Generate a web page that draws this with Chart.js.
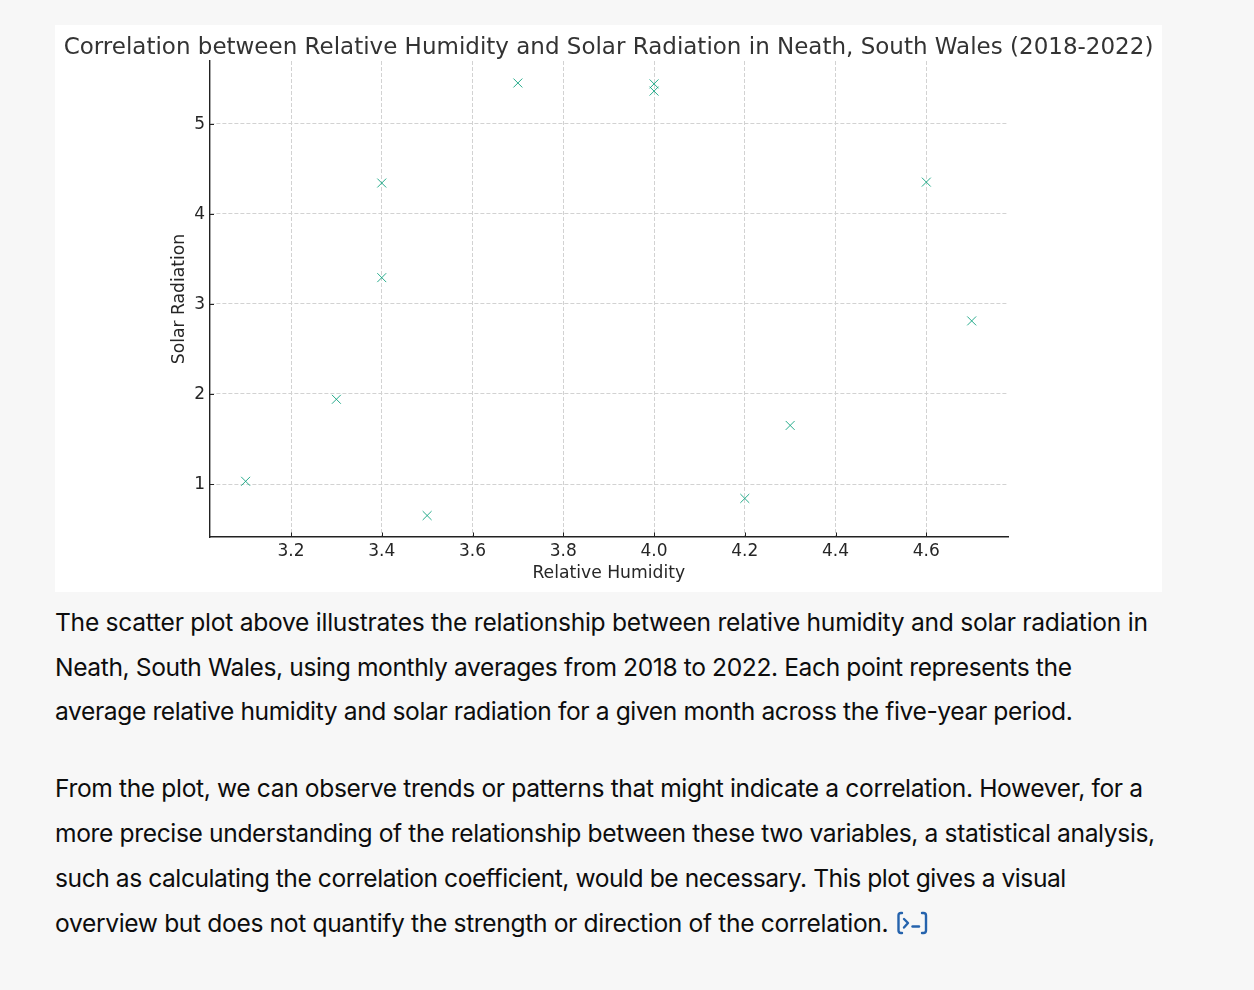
<!DOCTYPE html>
<html><head><meta charset="utf-8">
<script src="https://cdn.jsdelivr.net/npm/chart.js@4"></script>
<style>
html,body{margin:0;padding:0;background:#f7f7f7;width:1254px;height:990px;overflow:hidden}
#box{position:absolute;left:55px;top:25px;width:1107px;height:567px;background:#fff}
canvas{display:block}
.l{position:absolute;left:55px;font:400 24.6px/30px Inter,sans-serif;color:#0d0d0d;white-space:nowrap}
svg{position:absolute}
</style></head><body>
<div id="box"><canvas id="c" width="1107" height="567"></canvas></div>
<div class="l" style="top:607px;letter-spacing:-0.27px">The scatter plot above illustrates the relationship between relative humidity and solar radiation in</div>
<div class="l" style="top:652px;letter-spacing:-0.395px">Neath, South Wales, using monthly averages from 2018 to 2022. Each point represents the</div>
<div class="l" style="top:696px;letter-spacing:-0.393px">average relative humidity and solar radiation for a given month across the five-year period.</div>
<div class="l" style="top:773px;letter-spacing:-0.37px">From the plot, we can observe trends or patterns that might indicate a correlation. However, for a</div>
<div class="l" style="top:818px;letter-spacing:-0.37px">more precise understanding of the relationship between these two variables, a statistical analysis,</div>
<div class="l" style="top:863px;letter-spacing:-0.447px">such as calculating the correlation coefficient, would be necessary. This plot gives a visual</div>
<div class="l" style="top:908px;letter-spacing:-0.35px">overview but does not quantify the strength or direction of the correlation.</div>
<svg style="left:896px;top:911px" width="33" height="25" viewBox="0 0 33 25" fill="none" stroke="#2563ad" stroke-width="2.4" stroke-linecap="round" stroke-linejoin="round">
<path d="M6 2H5Q2.5 2 2.5 4.5V19.5Q2.5 22 5 22H6"/><path d="M26 2H27.5Q30 2 30 4.5V19.5Q30 22 27.5 22H26"/><path d="M8 8l4 4-4 4.5"/><path d="M16.5 15.5H23"/>
</svg>
<script>
const chartTitle = "Correlation between Relative Humidity and Solar Radiation in Neath, South Wales (2018-2022)";
const xLabel = "Relative Humidity";
const yLabel = "Solar Radiation";
const humidity = [3.1, 3.3, 3.4, 3.4, 3.5, 3.7, 4.0, 4.0, 4.2, 4.3, 4.6, 4.7];
const radiation = [1.03, 1.94, 3.29, 4.34, 0.65, 5.45, 5.44, 5.36, 0.84, 1.65, 4.35, 2.81];
const xTicks = [3.2, 3.4, 3.6, 3.8, 4.0, 4.2, 4.4, 4.6];
const yTicks = [1, 2, 3, 4, 5];

const font = "'DejaVu Sans'";
const inwardTicks = {
  id: 'inwardTicks',
  afterDatasetsDraw(chart) {
    const {ctx, scales:{x, y}, chartArea:a} = chart;
    ctx.save();
    ctx.strokeStyle = '#222'; ctx.lineWidth = 1;
    ctx.beginPath();
    xTicks.forEach(v => { const p = Math.round(x.getPixelForValue(v)) + 0.5; ctx.moveTo(p, a.bottom); ctx.lineTo(p, a.bottom - 4.5); });
    yTicks.forEach(v => { const p = Math.round(y.getPixelForValue(v)) + 0.5; ctx.moveTo(a.left, p); ctx.lineTo(a.left + 4.5, p); });
    ctx.stroke();
    ctx.restore();
  }
};
const grid = {color:'#d2d2d2', lineWidth:1, drawTicks:false, tickLength:0};
const border = {color:'#222', width:1.4, dash:[4,2]};
new Chart(document.getElementById('c'), {
  type:'scatter',
  data:{datasets:[{data:humidity.map((v,i)=>({x:v,y:radiation[i]})),
    pointStyle:'crossRot', pointRadius:6.3, pointBorderWidth:0.9,
    pointBorderColor:'#10a37f', pointBackgroundColor:'#10a37f'}]},
  plugins:[inwardTicks],
  options:{
    responsive:false, animation:false, devicePixelRatio:1,
    layout:{padding:0},
    plugins:{legend:{display:false},tooltip:{enabled:false},
      title:{display:true,text:chartTitle,color:'#333',font:{family:font,size:23,weight:'normal'},padding:{top:8.9,bottom:-0.5}}},
    scales:{
      x:{type:'linear',min:3.0204,max:4.78,
        afterBuildTicks:s=>{s.ticks=xTicks.map(value=>({value}));},
        afterFit:s=>{s.height=55;},
        border,grid,
        ticks:{autoSkip:false,maxRotation:0,padding:4,color:'#262626',font:{family:font,size:17},callback:v=>Number(v).toFixed(1)},
        title:{display:true,text:xLabel,color:'#262626',font:{family:font,size:17.2},padding:{top:0,bottom:8}}},
      y:{type:'linear',min:0.412,max:5.694,
        afterBuildTicks:s=>{s.ticks=yTicks.map(value=>({value}));},
        afterFit:s=>{s.width=154.5;},
        border,grid,
        ticks:{autoSkip:false,padding:4.5,labelOffset:1,color:'#262626',font:{family:font,size:17},callback:v=>String(v)},
        title:{display:true,text:yLabel,color:'#262626',font:{family:font,size:17.2},padding:{top:114,bottom:0}}},
      rightMargin:{type:'linear',position:'right',display:true,
        afterBuildTicks:s=>{s.ticks=[];},
        afterFit:s=>{s.width=154;},
        border:{display:false},grid:{display:false},ticks:{display:false}}
    }
  }
});
</script>
</body></html>
